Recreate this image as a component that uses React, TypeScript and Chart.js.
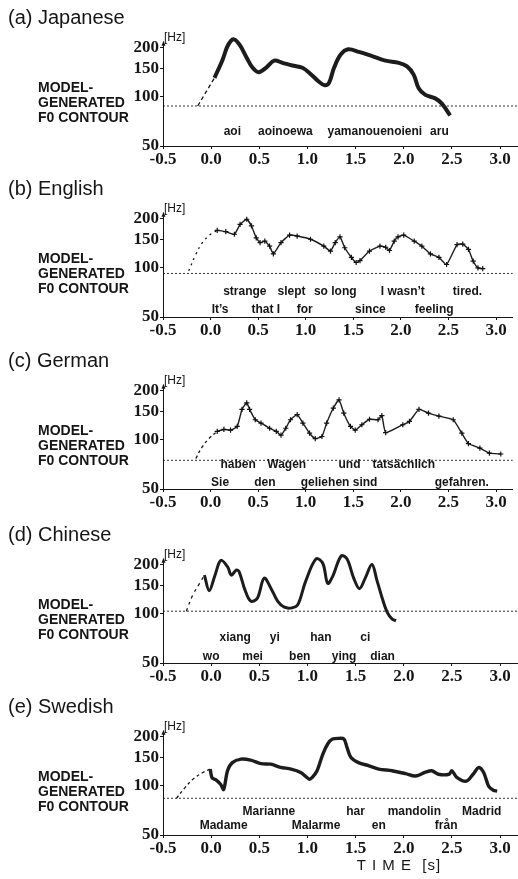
import React, { useEffect, useRef } from 'react';
import { Chart, registerables } from 'chart.js';

Chart.register(...registerables);

// ---------- axis ticks ----------
const X_TICKS = [-0.5, 0, 0.5, 1.0, 1.5, 2.0, 2.5, 3.0];
const Y_TICKS = [50, 100, 150, 200];
const X_MIN = -0.5;
const X_MAX = 3.176;
const Y_MIN = 50;
const Y_MAX = 240;

const TITLES = ['(a) Japanese', '(b) English', '(c) German', '(d) Chinese', '(e) Swedish'];
const SIDE_LABEL = ['MODEL-', 'GENERATED', 'F0 CONTOUR'];
const FB = [88, 92.5, 75, 104, 84];

// ---------- (a) Japanese ----------
const JA_T = [0.035, 0.12, 0.172, 0.231, 0.293, 0.369, 0.431, 0.493, 0.569, 0.655, 0.741, 0.844, 0.948, 1.035, 1.12, 1.179, 1.224, 1.276, 1.345, 1.423, 1.534, 1.672, 1.81, 1.948, 2.034, 2.103, 2.155, 2.224, 2.327, 2.396, 2.482];
const JA_F0 = [131, 170, 206, 226, 210, 174, 151, 142, 151, 167, 162, 156, 151, 138, 124, 118, 122, 151, 182, 196, 189, 178, 167, 162, 154, 137, 113, 103, 98, 91, 77];
const JA_DASH_T = [-0.14, 0.035];
const JA_DASH_F0 = [88, 131];
const JA_WORDS = ['aoi', 'aoinoewa', 'yamanouenoieni', 'aru'];
const JA_WORD_T = [0.22, 0.77, 1.70, 2.37];
const JA_WORD_ROW = [0, 0, 0, 0];

// ---------- (b) English ----------
const EN_T = [0.07, 0.16, 0.25, 0.31, 0.38, 0.43, 0.48, 0.52, 0.57, 0.62, 0.66, 0.74, 0.83, 0.91, 1.05, 1.19, 1.26, 1.31, 1.36, 1.41, 1.48, 1.53, 1.57, 1.67, 1.78, 1.84, 1.88, 1.93, 1.97, 2.03, 2.14, 2.22, 2.31, 2.40, 2.48, 2.59, 2.65, 2.71, 2.76, 2.81, 2.86];
const EN_F0 = [170, 167, 161, 185, 199, 181, 153, 143, 146, 136, 122, 143, 159, 157, 150, 136, 127, 143, 155, 133, 116, 108, 111, 127, 136, 134, 128, 146, 155, 159, 146, 136, 122, 116, 105, 139, 140, 130, 110, 100, 99];
const EN_DASH_T = [-0.23, -0.155, -0.086, 0.0, 0.07];
const EN_DASH_F0 = [96, 121, 143, 161, 170];
const EN_WORDS = ['strange', 'slept', 'so long', 'I wasn\u2019t', 'tired.', 'It\u2019s', 'that I', 'for', 'since', 'feeling'];
const EN_WORD_T = [0.36, 0.85, 1.31, 2.02, 2.70, 0.10, 0.58, 0.99, 1.68, 2.35];
const EN_WORD_ROW = [0, 0, 0, 0, 0, 1, 1, 1, 1, 1];

// ---------- (c) German ----------
const DE_T = [0.07, 0.14, 0.21, 0.28, 0.33, 0.38, 0.41, 0.47, 0.53, 0.62, 0.69, 0.74, 0.79, 0.84, 0.91, 0.97, 1.04, 1.10, 1.17, 1.22, 1.29, 1.35, 1.40, 1.47, 1.52, 1.59, 1.67, 1.76, 1.80, 1.84, 2.02, 2.09, 2.19, 2.29, 2.40, 2.55, 2.64, 2.71, 2.83, 2.93, 3.05];
const DE_F0 = [113, 116, 115, 121, 154, 169, 154, 133, 127, 118, 113, 107, 118, 133, 143, 127, 110, 102, 105, 127, 157, 176, 146, 121, 115, 124, 134, 133, 141, 111, 124, 130, 154, 146, 140, 133, 110, 95, 89, 83, 82];
const DE_DASH_T = [-0.155, -0.086, -0.017, 0.07];
const DE_DASH_F0 = [77, 91, 102, 113];
const DE_WORDS = ['haben', 'Wagen', 'und', 'tats\u00e4chlich', 'Sie', 'den', 'geliehen sind', 'gefahren.'];
const DE_WORD_T = [0.29, 0.80, 1.46, 2.03, 0.10, 0.57, 1.35, 2.64];
const DE_WORD_ROW = [0, 0, 0, 0, 1, 1, 1, 1];

// ---------- (d) Chinese ----------
const ZH_T = [-0.07, -0.02, 0.04, 0.10, 0.17, 0.21, 0.26, 0.29, 0.35, 0.41, 0.48, 0.55, 0.62, 0.69, 0.76, 0.84, 0.90, 0.98, 1.09, 1.16, 1.21, 1.26, 1.35, 1.41, 1.48, 1.54, 1.60, 1.67, 1.72, 1.78, 1.83, 1.88, 1.92];
const ZH_F0 = [173, 139, 173, 213, 195, 173, 186, 182, 141, 120, 125, 166, 144, 120, 110, 109, 114, 158, 218, 204, 154, 169, 227, 218, 166, 143, 166, 201, 162, 123, 102, 93, 91];
const ZH_DASH_T = [-0.258, -0.19, -0.12, -0.07];
const ZH_DASH_F0 = [104, 131, 154, 173];
const ZH_WORDS = ['xiang', 'yi', 'han', 'ci', 'wo', 'mei', 'ben', 'ying', 'dian'];
const ZH_WORD_T = [0.25, 0.66, 1.14, 1.60, 0.0, 0.43, 0.92, 1.38, 1.78];
const ZH_WORD_ROW = [0, 0, 0, 0, 1, 1, 1, 1, 1];

// ---------- (e) Swedish ----------
const SV_T = [-0.01, 0.01, 0.05, 0.10, 0.13, 0.17, 0.22, 0.31, 0.41, 0.52, 0.62, 0.72, 0.83, 0.93, 1.02, 1.05, 1.10, 1.16, 1.21, 1.26, 1.33, 1.38, 1.41, 1.45, 1.53, 1.64, 1.74, 1.88, 2.02, 2.12, 2.22, 2.29, 2.36, 2.47, 2.50, 2.55, 2.65, 2.72, 2.78, 2.83, 2.88, 2.93, 2.97];
const SV_F0 = [127, 112, 109, 102, 95, 124, 139, 146, 144, 137, 136, 130, 127, 121, 110, 113, 124, 157, 181, 194, 196, 194, 173, 150, 139, 133, 127, 124, 119, 115, 121, 124, 118, 118, 124, 113, 107, 118, 130, 121, 100, 94, 93];
const SV_DASH_T = [-0.36, -0.276, -0.19, -0.086, -0.01];
const SV_DASH_F0 = [84, 97, 110, 121, 127];
const SV_WORDS = ['Marianne', 'har', 'mandolin', 'Madrid', 'Madame', 'Malarme', 'en', 'fr\u00e5n'];
const SV_WORD_T = [0.60, 1.50, 2.11, 2.81, 0.13, 1.09, 1.74, 2.44];
const SV_WORD_ROW = [0, 0, 0, 0, 1, 1, 1, 1];

// ---------- layout / style (not data) ----------
const PANEL_TOPS = [0, 171, 343, 517, 689];
const PANEL_HEIGHTS = [171, 172, 174, 172, 190];
const AXIS_Y = 146; // chart-area bottom inside each canvas
const OBS_WIDTH = [4, 1.4, 1.4, 3, 3.4];
const OBS_POINT = [0, 2.6, 2.6, 0, 0];
const OBS_TENSION = [0.35, 0.15, 0.15, 0.35, 0.3];
const DASH_PATTERN = [[4, 3], [2, 4], [3, 3], [3, 4], [3, 3]];
const ROW_OFFSETS = [[-14], [-25, -7], [-24, -6], [-25, -6], [-23, -9]];

const PANELS = [
  { t: JA_T, f: JA_F0, dt: JA_DASH_T, df: JA_DASH_F0, words: JA_WORDS, wt: JA_WORD_T, wr: JA_WORD_ROW },
  { t: EN_T, f: EN_F0, dt: EN_DASH_T, df: EN_DASH_F0, words: EN_WORDS, wt: EN_WORD_T, wr: EN_WORD_ROW },
  { t: DE_T, f: DE_F0, dt: DE_DASH_T, df: DE_DASH_F0, words: DE_WORDS, wt: DE_WORD_T, wr: DE_WORD_ROW },
  { t: ZH_T, f: ZH_F0, dt: ZH_DASH_T, df: ZH_DASH_F0, words: ZH_WORDS, wt: ZH_WORD_T, wr: ZH_WORD_ROW },
  { t: SV_T, f: SV_F0, dt: SV_DASH_T, df: SV_DASH_F0, words: SV_WORDS, wt: SV_WORD_T, wr: SV_WORD_ROW },
];

const SANS = '"Liberation Sans", Arial, Helvetica, sans-serif';
const SERIF = '"Liberation Serif", "Times New Roman", serif';
const INK = '#151515';

function Panel({ index }: { index: number }) {
  const ref = useRef<HTMLCanvasElement | null>(null);
  useEffect(() => {
    const canvas = ref.current;
    if (!canvas) return;
    const p = PANELS[index];
    const height = PANEL_HEIGHTS[index];
    const isLast = index === PANELS.length - 1;

    const overlay = {
      id: 'overlay' + index,
      afterDraw(chart: any) {
        const ctx = chart.ctx as CanvasRenderingContext2D;
        const xs = chart.scales.x;
        const ys = chart.scales.y;
        const ax = xs.getPixelForValue(X_MIN);
        const y50 = ys.getPixelForValue(Y_MIN);
        const yTop = ys.getPixelForValue(212);
        ctx.save();
        // y axis line with small arrow
        ctx.strokeStyle = INK;
        ctx.lineWidth = 1;
        ctx.beginPath();
        ctx.moveTo(ax + 0.5, y50);
        ctx.lineTo(ax + 0.5, yTop);
        ctx.stroke();
        ctx.fillStyle = INK;
        ctx.beginPath();
        ctx.moveTo(ax + 0.5, yTop - 3);
        ctx.lineTo(ax - 1.5, yTop + 2);
        ctx.lineTo(ax + 2.5, yTop + 2);
        ctx.closePath();
        ctx.fill();
        // [Hz]
        ctx.textBaseline = 'middle';
        ctx.textAlign = 'left';
        ctx.font = '12px ' + SANS;
        ctx.fillText('[Hz]', ax + 1, y50 - 108);
        // panel title
        ctx.font = '20px ' + SANS;
        ctx.fillText(TITLES[index], 8, y50 - 128);
        // side label
        ctx.font = 'bold 14px ' + SANS;
        SIDE_LABEL.forEach((s, i) => ctx.fillText(s, 38, y50 - 58 + i * 15));
        // words
        ctx.font = 'bold 12px ' + SANS;
        ctx.textAlign = 'center';
        p.words.forEach((w, i) => {
          ctx.fillText(w, xs.getPixelForValue(p.wt[i]), y50 + ROW_OFFSETS[index][p.wr[i]]);
        });
        if (isLast) {
          ctx.font = '15px ' + SANS;
          try { (ctx as any).letterSpacing = '1px'; } catch (e) { /* ignore */ }
          ctx.fillText('T I M E  [s]', xs.getPixelForValue(1.95), y50 + 31);
        }
        ctx.restore();
      },
    };

    const chart = new Chart(canvas, {
      type: 'line',
      data: {
        datasets: [
          {
            data: [{ x: X_MIN, y: FB[index] }, { x: X_MAX, y: FB[index] }],
            borderColor: '#333',
            borderWidth: 1,
            borderDash: [2, 2],
            pointRadius: 0,
          },
          {
            data: p.dt.map((t, i) => ({ x: t, y: p.df[i] })),
            borderColor: INK,
            borderWidth: 1.3,
            borderDash: DASH_PATTERN[index],
            pointRadius: 0,
            tension: 0.4,
          },
          {
            data: p.t.map((t, i) => ({ x: t, y: p.f[i] })),
            borderColor: '#1c1c1c',
            borderWidth: OBS_WIDTH[index],
            pointRadius: OBS_POINT[index],
            pointStyle: 'cross',
            pointBorderColor: '#111',
            pointBorderWidth: 1.2,
            tension: OBS_TENSION[index],
          },
        ],
      } as any,
      options: {
        animation: false,
        responsive: false,
        devicePixelRatio: 1,
        events: [],
        layout: { padding: { top: 35, right: 1, left: 0, bottom: 0 } },
        plugins: { legend: { display: false }, tooltip: { enabled: false }, title: { display: false } },
        scales: {
          x: {
            type: 'linear',
            min: X_MIN,
            max: X_MAX,
            afterBuildTicks: (s: any) => { s.ticks = X_TICKS.map((v) => ({ value: v })); },
            afterFit: (s: any) => { s.height = height - AXIS_Y; },
            ticks: {
              callback: (v: any) => Number(v).toFixed(1),
              font: { family: SERIF, size: 17, weight: 'bold' },
              color: INK,
              padding: 0,
              maxRotation: 0,
              autoSkip: false,
            },
            grid: { drawOnChartArea: false, tickLength: 3, color: INK },
            border: { display: true, color: INK, width: 1 },
          },
          y: {
            type: 'logarithmic',
            min: Y_MIN,
            max: Y_MAX,
            afterBuildTicks: (s: any) => { s.ticks = Y_TICKS.map((v) => ({ value: v })); },
            afterFit: (s: any) => { s.width = 163; },
            ticks: {
              callback: (v: any) => String(v),
              font: { family: SERIF, size: 17, weight: 'bold' },
              color: INK,
              padding: 1,
              autoSkip: false,
            },
            grid: { drawOnChartArea: false, tickLength: 3, color: INK },
            border: { display: false },
          },
        },
      } as any,
      plugins: [overlay],
    });
    return () => chart.destroy();
  }, [index]);

  return (
    <canvas
      ref={ref}
      width={518}
      height={PANEL_HEIGHTS[index]}
      style={{ position: 'absolute', left: 0, top: PANEL_TOPS[index], width: 518, height: PANEL_HEIGHTS[index] }}
    />
  );
}

export default function App() {
  return (
    <div style={{ position: 'absolute', left: 0, top: 0, width: 518, height: 879, background: '#fff', overflow: 'hidden' }}>
      {PANELS.map((_, i) => (
        <Panel key={i} index={i} />
      ))}
    </div>
  );
}
